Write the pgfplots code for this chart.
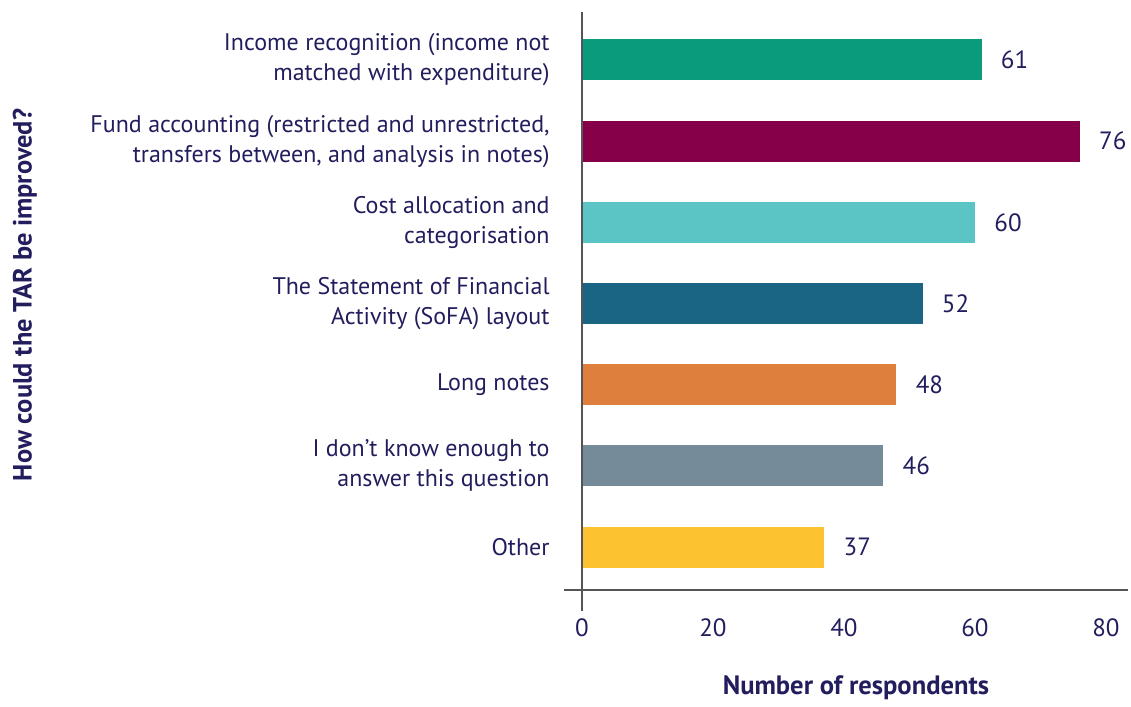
\documentclass[border=0pt]{standalone}
\usepackage{pgfplots}
\pgfplotsset{compat=1.18}
\usepackage{fontspec}
\setmainfont{PT Sans}
\definecolor{cGreen}{HTML}{0A9B7C}
\definecolor{cMaroon}{HTML}{850048}
\definecolor{cTeal}{HTML}{5BC5C6}
\definecolor{cBlue}{HTML}{1B6584}
\definecolor{cOrange}{HTML}{DF7F3E}
\definecolor{cGrey}{HTML}{768B99}
\definecolor{cYellow}{HTML}{FDC230}
\definecolor{navy}{HTML}{221E5E}
\definecolor{axisgrey}{HTML}{555555}
\begin{document}
\begin{tikzpicture}
\begin{axis}[
    scale only axis,
    width=262pt, height=289pt,
    xbar, bar width=0.505, bar shift=0pt,
    xmin=0, xmax=80,
    ymin=-0.591, ymax=6.530,
    y dir=reverse,
    axis line style={draw=none},
    major tick length=0pt,
    xtick={0,20,40,60,80},
    ytick={0,1,2,3,4,5,6},
    yticklabels={
        {Income recognition (income not\\matched with expenditure)},
        {Fund accounting (restricted and unrestricted,\\transfers between, and analysis in notes)},
        {Cost allocation and\\categorisation},
        {The Statement of Financial\\Activity (SoFA) layout},
        {Long notes},
        {I don’t know enough to\\answer this question},
        {Other}},
    yticklabel style={anchor=east, align=right, inner sep=0pt, xshift=-16pt,
        font=\fontsize{12}{15}\selectfont, text=navy},
    xticklabel style={anchor=center, yshift=-19pt,
        font=\fontsize{12.5}{15}\selectfont, text=navy},
    /pgf/number format/assume math mode=true,
    nodes near coords,
    every node near coord/.append style={anchor=west, inner sep=0pt, xshift=9.5pt,
        font=\fontsize{12.5}{15}\selectfont, text=navy},
    clip=false,
]
\addplot[fill=cGreen, draw=none] coordinates {(61,0)};
\addplot[fill=cMaroon, draw=none] coordinates {(76,1)};
\addplot[fill=cTeal, draw=none] coordinates {(60,2)};
\addplot[fill=cBlue, draw=none] coordinates {(52,3)};
\addplot[fill=cOrange, draw=none] coordinates {(48,4)};
\addplot[fill=cGrey, draw=none] coordinates {(46,5)};
\addplot[fill=cYellow, draw=none] coordinates {(37,6)};
% axis lines
\draw[axisgrey, line width=1pt] (axis cs:-2.75,6.53) -- (axis cs:83.4,6.53);
\draw[axisgrey, line width=1pt] (axis cs:0,-0.591) -- (axis cs:0,6.79);
% titles
\node[rotate=90, font=\fontsize{13.2}{15}\selectfont\bfseries, text=navy]
    at (axis cs:-85.04,2.895) {How could the TAR be improved?};
\node[font=\fontsize{13.3}{15}\selectfont\bfseries, text=navy]
    at (axis cs:41.83,7.737) {Number of respondents};
% picture frame
\path (axis cs:-88.85,-0.739) rectangle (axis cs:83.82,7.897);
\end{axis}
\end{tikzpicture}
\end{document}
